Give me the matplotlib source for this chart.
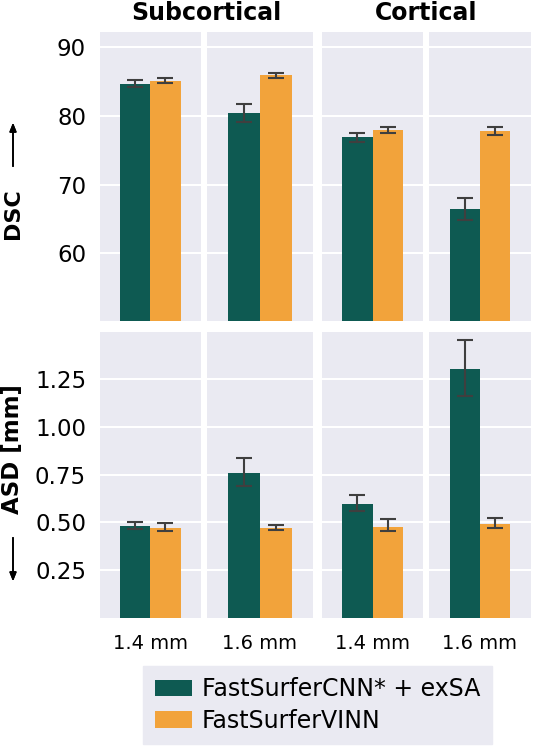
import matplotlib
matplotlib.use("Agg")
import matplotlib.pyplot as plt
from matplotlib.patches import Patch

# panels: Subcortical 1.4, Subcortical 1.6, Cortical 1.4, Cortical 1.6
regions = ["Subcortical", "Cortical"]
resolutions = ["1.4 mm", "1.6 mm", "1.4 mm", "1.6 mm"]
models = ["FastSurferCNN* + exSA", "FastSurferVINN"]
colors = ["#0e5a52", "#f2a33b"]

# DSC: mean and CI bounds
dsc_cnn = [84.64, 80.45, 76.85, 66.52]
dsc_cnn_lo = [84.16, 79.09, 76.17, 64.92]
dsc_cnn_hi = [85.18, 81.67, 77.43, 68.08]
dsc_vinn = [85.08, 85.86, 77.97, 77.73]
dsc_vinn_lo = [84.74, 85.52, 77.43, 77.19]
dsc_vinn_hi = [85.47, 86.25, 78.41, 78.31]

# ASD [mm]: mean and CI bounds
asd_cnn = [0.479, 0.759, 0.595, 1.302]
asd_cnn_lo = [0.464, 0.691, 0.559, 1.165]
asd_cnn_hi = [0.503, 0.839, 0.646, 1.455]
asd_vinn = [0.470, 0.470, 0.477, 0.493]
asd_vinn_lo = [0.455, 0.458, 0.455, 0.469]
asd_vinn_hi = [0.495, 0.486, 0.516, 0.524]

W, H = 534, 749
fig = plt.figure(figsize=(W / 100, H / 100), dpi=100)

# panel placement in pixels
col_left = [100, 206.7, 321.7, 429.3]
col_width = [100.7, 106.6, 101.6, 101.4]
row_top = [32.3, 331.7]
row_bottom = [321.0, 617.7]

rows = [
    dict(vals=[dsc_cnn, dsc_vinn], lo=[dsc_cnn_lo, dsc_vinn_lo], hi=[dsc_cnn_hi, dsc_vinn_hi],
         ylim=(50.2, 92.1), ticks=[60, 70, 80, 90], fmt="{:.0f}"),
    dict(vals=[asd_cnn, asd_vinn], lo=[asd_cnn_lo, asd_vinn_lo], hi=[asd_cnn_hi, asd_vinn_hi],
         ylim=(0.0, 1.5), ticks=[0.25, 0.5, 0.75, 1.0, 1.25], fmt="{:.2f}"),
]

bar_w = 0.3
offsets = [-0.15, 0.15]

for r, row in enumerate(rows):
    for c in range(4):
        ax = fig.add_axes([col_left[c] / W, 1 - row_bottom[r] / H,
                           col_width[c] / W, (row_bottom[r] - row_top[r]) / H])
        ax.set_facecolor("#eaeaf2")
        for s in ax.spines.values():
            s.set_visible(False)
        ax.set_axisbelow(True)
        ax.yaxis.grid(True, color="white", linewidth=1.5)
        for m in range(2):
            v = row["vals"][m][c]
            err = [[v - row["lo"][m][c]], [row["hi"][m][c] - v]]
            ax.bar(offsets[m], v, width=bar_w, color=colors[m], zorder=2)
            ax.errorbar(offsets[m], v, yerr=err, color="#3f3f3f", elinewidth=1.5,
                        capsize=6, capthick=1.5, zorder=3)
        ax.set_xlim(-0.5, 0.5)
        ax.set_ylim(*row["ylim"])
        ax.set_yticks(row["ticks"])
        ax.tick_params(length=0)
        if c == 0:
            ax.set_yticklabels([row["fmt"].format(t) for t in row["ticks"]], fontsize=16.5)
            ax.tick_params(axis="y", pad=10)
        else:
            ax.set_yticklabels([])
        if r == 1:
            ax.set_xticks([0])
            ax.set_xticklabels([resolutions[c]], fontsize=14)
            ax.tick_params(axis="x", pad=12)
        else:
            ax.set_xticks([])

# column group titles
for i, name in enumerate(regions):
    x0 = col_left[2 * i]
    x1 = col_left[2 * i + 1] + col_width[2 * i + 1]
    fig.text((x0 + x1) / 2 / W, 1 - 13 / H, name, ha="center", va="center",
             fontsize=17, fontweight="bold")

# y labels with arrows
fig.text(13 / W, 1 - 213.5 / H, "DSC", rotation=90, ha="center", va="center",
         fontsize=16, fontweight="bold")
fig.text(13 / W, 1 - 449 / H, "ASD [mm]", rotation=90, ha="center", va="center",
         fontsize=16.5, fontweight="bold")
arrow = dict(arrowstyle="-|>,head_length=0.5,head_width=0.2", color="black", lw=1.2)
fig.add_artist(plt.annotate("", xy=(13 / W, 1 - 120 / H), xytext=(13 / W, 1 - 169 / H),
                            xycoords="figure fraction", textcoords="figure fraction",
                            arrowprops=arrow))
fig.add_artist(plt.annotate("", xy=(13 / W, 1 - 584 / H), xytext=(13 / W, 1 - 535 / H),
                            xycoords="figure fraction", textcoords="figure fraction",
                            arrowprops=arrow))

handles = [Patch(facecolor=colors[m], label=models[m]) for m in range(2)]
fig.legend(handles=handles, loc="center", bbox_to_anchor=(317.5 / W, 1 - 705 / H),
           fontsize=17, frameon=True, facecolor="#eaeaf2", edgecolor="#eaeaf2",
           framealpha=1, fancybox=False, handlelength=1.6, handleheight=0.7,
           handletextpad=0.4, labelspacing=0.3, borderpad=0.5)

fig.savefig("out.png", dpi=100)
